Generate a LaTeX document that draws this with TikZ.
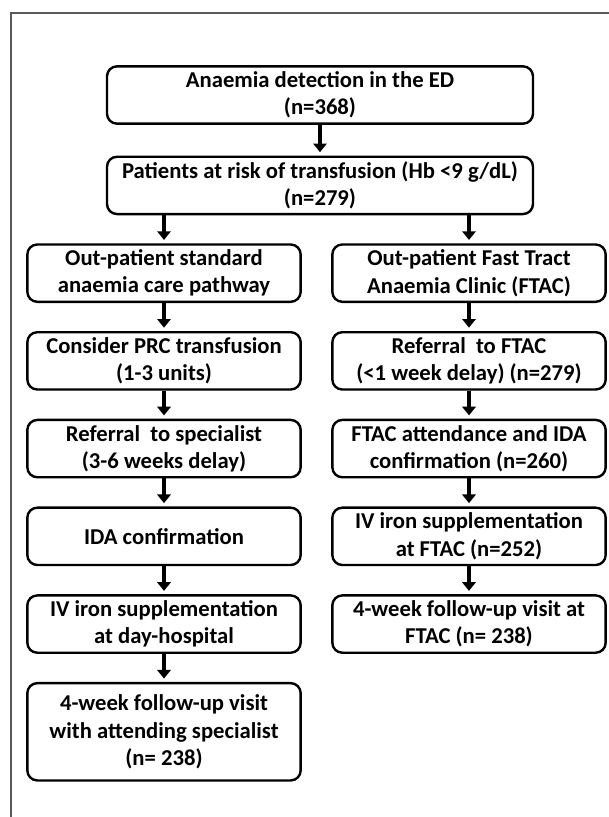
\documentclass[tikz,border=0pt]{standalone}
\usepackage{fontspec}
\setmainfont{Carlito}
\usetikzlibrary{positioning,arrows.meta}

\tikzset{
box/.style={draw,line width=1.8pt,rounded corners=7.5pt,align=center,
  font=\fontsize{17}{20.5}\selectfont\bfseries,inner sep=0pt,minimum height=43pt},
wide/.style={box,minimum width=319.5pt},
col/.style={box,minimum width=205pt},
flow/.style={line width=3pt,-{Triangle[width=10pt,length=6.5pt]},shorten >=2.5pt}
}

\begin{document}
\begin{tikzpicture}[x=0.75pt,y=-0.75pt,node distance=21pt]
\useasboundingbox (0,0) rectangle (609,817);
\draw[line width=1pt,black!65] (11,817) -- (11,13) -- (609,13);

\node[wide] (detect) at (320,95) {Anaemia detection in the ED\\(n=368)};
\node[wide,below=23pt of detect] (risk) {Patients at risk of transfusion (Hb <9 g/dL)\\(n=279)};

\node[col,below=of risk,xshift=-117pt] (std1) {Out-patient standard\\anaemia care pathway};
\node[col,below=of std1] (std2) {Consider PRC transfusion\\(1-3 units)};
\node[col,below=of std2] (std3) {Referral\ \ to specialist\\(3-6 weeks delay)};
\node[col,below=of std3] (std4) {IDA confirmation};
\node[col,below=of std4] (std5) {IV iron supplementation\\at day-hospital};
\node[col,below=of std5,minimum height=73pt] (std6) {4-week follow-up visit\\with attending specialist\\(n= 238)};

\node[col,below=of risk,xshift=111.75pt] (ftac1) {Out-patient Fast Tract\\Anaemia Clinic (FTAC)};
\node[col,below=of ftac1] (ftac2) {Referral\ \ to FTAC\\(<1 week delay) (n=279)};
\node[col,below=of ftac2] (ftac3) {FTAC attendance and IDA\\confirmation (n=260)};
\node[col,below=of ftac3] (ftac4) {IV iron supplementation\\at FTAC (n=252)};
\node[col,below=of ftac4] (ftac5) {4-week follow-up visit at\\FTAC (n= 238)};

\draw[flow] (detect) -- (risk);
\draw[flow] (risk.south -| std1) -- (std1);
\draw[flow] (risk.south -| ftac1) -- (ftac1);
\draw[flow] (std1) -- (std2);
\draw[flow] (std2) -- (std3);
\draw[flow] (std3) -- (std4);
\draw[flow] (std4) -- (std5);
\draw[flow] (std5) -- (std6);
\draw[flow] (ftac1) -- (ftac2);
\draw[flow] (ftac2) -- (ftac3);
\draw[flow] (ftac3) -- (ftac4);
\draw[flow] (ftac4) -- (ftac5);
\end{tikzpicture}
\end{document}
